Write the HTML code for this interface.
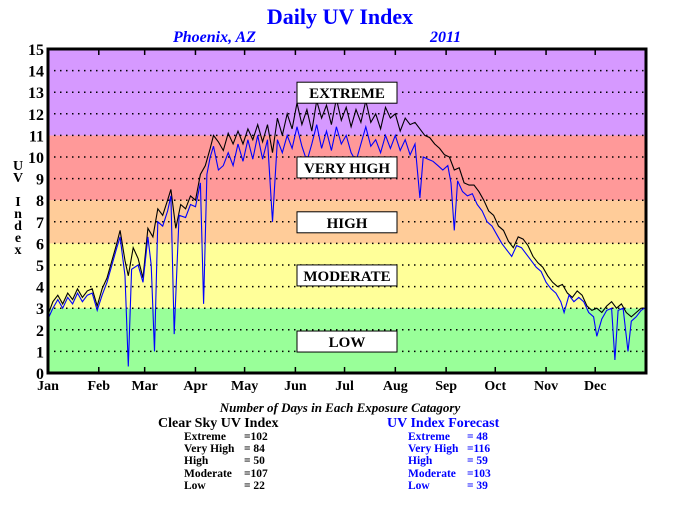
<!DOCTYPE html>
<html><head><meta charset="utf-8"><style>
body{margin:0;background:#fff;width:680px;height:500px;overflow:hidden;font-family:"Liberation Serif",serif}
svg text{font-family:"Liberation Serif",serif;font-weight:bold}
</style></head><body>
<svg id="c" width="680" height="500">
<text x="340" y="24" text-anchor="middle" font-size="22" fill="#0000ff">Daily UV Index</text>
<text x="173" y="42" font-size="16" font-style="italic" fill="#0000ff">Phoenix, AZ</text>
<text x="430" y="42" font-size="16" font-style="italic" fill="#0000ff">2011</text>
<g id="plot"></g>
<text x="340" y="412" text-anchor="middle" font-size="13" font-style="italic">Number of Days in Each Exposure Catagory</text>
<text x="158" y="427" font-size="14">Clear Sky UV Index</text>
<g font-size="11.5">
<text x="184" y="440">Extreme</text><text x="244" y="440">=102</text>
<text x="184" y="452">Very High</text><text x="244" y="452">=  84</text>
<text x="184" y="464">High</text><text x="244" y="464">=  50</text>
<text x="184" y="477">Moderate</text><text x="244" y="477">=107</text>
<text x="184" y="489">Low</text><text x="244" y="489">=  22</text>
</g>
<text x="387" y="427" font-size="14" fill="#0000ff">UV Index Forecast</text>
<g font-size="11.5" fill="#0000ff">
<text x="408" y="440">Extreme</text><text x="467" y="440">=  48</text>
<text x="408" y="452">Very High</text><text x="467" y="452">=116</text>
<text x="408" y="464">High</text><text x="467" y="464">=  59</text>
<text x="408" y="477">Moderate</text><text x="467" y="477">=103</text>
<text x="408" y="489">Low</text><text x="467" y="489">=  39</text>
</g>
</svg>
<script>
const clearDays=[0,3,6,9,12,15,18,21,24,27,30,33,36,39,42,44,47,49,52,55,58,61,64,67,70,73,75,78,81,84,87,90,93,96,99,101,104,107,110,113,116,119,122,125,128,131,134,137,140,143,146,149,152,155,158,161,164,167,170,173,176,179,182,185,188,191,194,197,200,203,206,209,212,215,218,221,224,227,230,233,236,239,242,245,248,251,254,257,260,263,266,269,272,275,278,281,284,287,290,293,296,299,302,305,308,311,314,317,320,323,326,329,332,335,338,341,344,347,350,353,356,359,362,364];
const clearSky=[2.7,3.3,3.6,3.2,3.7,3.4,3.9,3.5,3.8,3.9,3.1,3.9,4.4,5.2,6.0,6.6,5.2,4.5,5.8,5.3,4.4,6.7,6.3,7.6,7.3,8.0,8.5,6.7,7.8,7.6,8.2,8.0,9.2,9.6,10.4,11.0,10.7,10.3,11.1,10.6,11.2,10.6,11.3,10.8,11.5,10.7,11.5,10.2,11.8,11.0,12.0,11.3,12.5,11.5,12.2,11.2,12.6,11.8,12.4,11.5,12.7,11.7,12.3,11.4,12.2,11.6,12.6,11.6,12.0,11.3,12.3,11.8,12.0,11.2,11.8,11.5,11.6,11.3,11.0,10.9,10.6,10.4,10.1,10.0,9.4,9.5,8.8,8.7,8.7,8.4,8.0,7.5,7.3,6.8,6.6,6.1,5.8,6.3,6.2,5.9,5.4,5.1,4.9,4.5,4.2,4.0,4.1,3.7,3.5,3.8,3.6,3.1,2.9,3.0,2.8,3.1,3.3,3.0,3.2,2.8,2.6,2.8,3.0,3.0];
const fcDays=[0,3,6,9,12,15,18,21,24,27,30,33,36,39,42,44,47,49,51,55,58,61,63,65,67,70,73,75,77,80,84,87,90,93,95,97,99,101,104,107,110,113,116,119,122,125,128,131,134,137,140,143,146,149,152,155,158,161,164,167,170,173,176,179,182,185,188,191,194,197,200,203,206,209,212,215,218,221,224,227,229,232,235,238,241,244,246,248,250,253,256,259,262,265,268,271,274,277,280,283,286,289,292,295,298,301,304,307,310,313,315,318,321,324,327,330,333,335,338,341,344,346,348,351,354,356,359,362,364];
const forecast=[2.5,3.0,3.4,3.0,3.5,3.2,3.7,3.3,3.6,3.7,2.9,3.6,4.2,5.0,5.8,6.3,4.5,0.3,4.8,5.0,4.2,6.3,5.0,1.0,7.0,6.8,7.5,8.2,1.8,7.3,7.2,7.8,7.7,8.8,3.2,9.2,10.0,10.5,9.4,9.6,10.2,9.6,10.6,9.8,10.8,9.9,11.0,9.9,10.8,7.0,10.8,10.2,11.0,10.4,11.4,10.5,9.8,10.6,11.5,10.4,11.2,10.3,11.4,10.6,11.0,10.2,9.8,10.6,11.4,10.5,10.8,10.2,11.0,10.4,11.0,10.3,10.8,10.1,10.6,8.1,10.0,9.9,9.8,9.6,9.4,9.6,8.8,6.6,8.9,8.4,8.2,8.3,7.8,7.5,7.0,6.8,6.4,6.0,5.7,5.4,5.9,5.8,5.5,5.2,4.9,4.7,4.2,3.9,3.7,3.3,2.8,3.6,3.3,3.5,3.3,2.8,2.6,1.7,2.5,2.9,3.0,0.6,2.9,3.0,1.0,2.4,2.6,2.9,3.0];
const yTicks=[0,1,2,3,4,5,6,7,8,9,10,11,12,13,14,15];
const months=["Jan","Feb","Mar","Apr","May","Jun","Jul","Aug","Sep","Oct","Nov","Dec"];
const monthStart=[0,31,59,90,120,151,181,212,243,273,304,334];
const bandLimits=[0,3,6,8,11,15];
const bandColors=["#99ff99","#ffff99","#ffcc99","#ff9999","#d699ff"];
const bandLabels=["LOW","MODERATE","HIGH","VERY HIGH","EXTREME"];
const labelLevels=[1.48,4.54,7.0,9.54,13.0];

const L=48,R=646,T=49,B=373;
const x=d=>L+d*(R-L)/365, y=v=>B-v*(B-T)/15;
const NS="http://www.w3.org/2000/svg", g=document.getElementById("plot");
function mk(t,a,p){const e=document.createElementNS(NS,t);for(const k in a)e.setAttribute(k,a[k]);(p||g).appendChild(e);return e;}
for(let i=0;i<bandColors.length;i++){
 const r=mk("rect",{x:L,y:y(bandLimits[i+1]),width:R-L,height:y(bandLimits[i])-y(bandLimits[i+1]),fill:bandColors[i]});
 
 
}
yTicks.forEach(v=>{
 if(v>0&&v<15){const l=mk("line",{x1:L,x2:R,y1:y(v),y2:y(v),stroke:"#000","stroke-width":1.5,"stroke-dasharray":"1.5 4.5"});
 
 }
 const t=mk("text",{x:L-4,y:y(v)+6,"text-anchor":"end","font-size":16});t.textContent=v;
 
 
});
months.forEach((m,i)=>{
 const xx=x(monthStart[i]);
 mk("line",{x1:xx,x2:xx,y1:B,y2:B-6,stroke:"#000","stroke-width":1.5});
 mk("line",{x1:xx,x2:xx,y1:T,y2:T+6,stroke:"#000","stroke-width":1.5});
 const t=mk("text",{x:xx,y:B+17,"text-anchor":"middle","font-size":14});t.textContent=m;
 
 
});
const ylab=mk("text",{x:18,y:170,"text-anchor":"middle","font-size":14});


["U","V","","I","n","d","e","x"].forEach((c,i)=>{const s=mk("tspan",{x:18,y:170+i*12},ylab);s.textContent=c;});
function line(days,vals,col,name){
 const p=mk("polyline",{points:days.map((d,i)=>x(d).toFixed(1)+","+y(vals[i]).toFixed(1)).join(" "),fill:"none",stroke:col,"stroke-width":1.1});
 
 
}
line(clearDays,clearSky,"#000","clear-sky-line");
line(fcDays,forecast,"#0000ff","forecast-line");
bandLabels.forEach((b,i)=>{
 const cy=y(labelLevels[i]);
 const r=mk("rect",{x:297,y:cy-10,width:100,height:21,fill:"#fff",stroke:"#000","stroke-width":1});
 
 
 const t=mk("text",{x:347,y:cy+6,"text-anchor":"middle","font-size":15});t.textContent=b;
 
 
});
const f=mk("rect",{x:L,y:T,width:R-L,height:B-T,fill:"none",stroke:"#000","stroke-width":3});


</script>
</body></html>
